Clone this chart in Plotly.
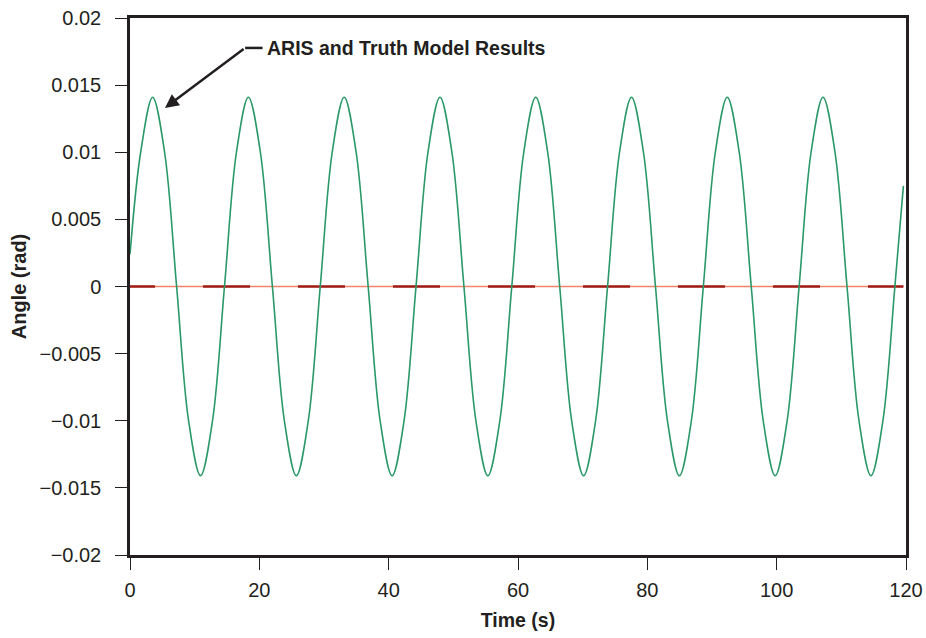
import plotly.graph_objects as go

# Pitch angle time history (s, rad) sampled at eighth-period points
time_s = [0.0, 1.65, 3.50, 5.35, 7.21, 9.06, 10.91, 12.76, 14.61,
          16.46, 18.31, 20.16, 22.02, 23.87, 25.72, 27.57, 29.42,
          31.27, 33.12, 34.97, 36.83, 38.68, 40.53, 42.38, 44.23,
          46.08, 47.93, 49.78, 51.64, 53.49, 55.34, 57.19, 59.04,
          60.89, 62.74, 64.59, 66.45, 68.30, 70.15, 72.00, 73.85,
          75.70, 77.55, 79.40, 81.26, 83.11, 84.96, 86.81, 88.66,
          90.51, 92.36, 94.21, 96.07, 97.92, 99.77, 101.62, 103.47,
          105.32, 107.17, 109.02, 110.88, 112.73, 114.58, 116.43, 118.28,
          119.6]
angle_rad = [0.0024, 0.0100, 0.0141, 0.0100, 0.0, -0.0100, -0.0141, -0.0100, 0.0,
             0.0100, 0.0141, 0.0100, 0.0, -0.0100, -0.0141, -0.0100, 0.0,
             0.0100, 0.0141, 0.0100, 0.0, -0.0100, -0.0141, -0.0100, 0.0,
             0.0100, 0.0141, 0.0100, 0.0, -0.0100, -0.0141, -0.0100, 0.0,
             0.0100, 0.0141, 0.0100, 0.0, -0.0100, -0.0141, -0.0100, 0.0,
             0.0100, 0.0141, 0.0100, 0.0, -0.0100, -0.0141, -0.0100, 0.0,
             0.0100, 0.0141, 0.0100, 0.0, -0.0100, -0.0141, -0.0100, 0.0,
             0.0100, 0.0141, 0.0100, 0.0, -0.0100, -0.0141, -0.0100, 0.0,
             0.0075]

# Reference (zero) response
ref_time = [0.0, 119.6]
ref_angle = [0.0, 0.0]

y_ticks = [0.02, 0.015, 0.01, 0.005, 0, -0.005, -0.01, -0.015, -0.02]
y_tick_text = ["0.02", "0.015", "0.01", "0.005", "0",
               "\u22120.005", "\u22120.01", "\u22120.015", "\u22120.02"]
x_ticks = [0, 20, 40, 60, 80, 100, 120]

font_family = "Liberation Sans, Arial, sans-serif"
ink = "#231f20"

fig = go.Figure()
fig.add_trace(go.Scatter(x=ref_time, y=ref_angle, mode="lines",
                         line=dict(color="#f3836a", width=1.6),
                         hoverinfo="skip", showlegend=False))
fig.add_trace(go.Scatter(x=ref_time, y=ref_angle, mode="lines",
                         line=dict(color="#9e1c16", width=2.6,
                                   dash="25px,48px,22px,0px"),
                         hoverinfo="skip", showlegend=False))
fig.add_trace(go.Scatter(x=time_s, y=angle_rad, mode="lines",
                         line=dict(color="#2a9868", width=1.6,
                                   shape="spline", smoothing=1.0),
                         showlegend=False))

# Callout: horizontal leader, then an arrow down to the first peak
fig.add_shape(type="line", xref="x", yref="y",
              x0=17.8, y0=0.01777, x1=20.5, y1=0.01777,
              line=dict(color=ink, width=2.5))
fig.add_annotation(x=5.4, y=0.0133, ax=17.8, ay=0.01777,
                   axref="x", ayref="y", xref="x", yref="y",
                   text="", showarrow=True, arrowhead=2, arrowsize=1.1,
                   arrowwidth=2.5, arrowcolor=ink)
fig.add_annotation(x=20.8, y=0.01777, xref="x", yref="y",
                   text="<b>ARIS and Truth Model Results</b>",
                   showarrow=False, xanchor="left", yanchor="middle",
                   font=dict(family=font_family, size=19.5, color=ink))

axis_common = dict(showline=True, linecolor=ink, linewidth=2.5, mirror=True,
                   ticks="outside", ticklen=12, tickwidth=1.2, tickcolor=ink,
                   showgrid=False, zeroline=False, automargin=False,
                   tickfont=dict(family=font_family, size=20, color=ink))

fig.update_xaxes(range=[0, 120], tickvals=x_ticks, ticklabelstandoff=3,
                 title=dict(text="<b>Time (s)</b>", standoff=14,
                            font=dict(family=font_family, size=19.5, color=ink)),
                 **axis_common)
fig.update_yaxes(range=[-0.02, 0.02], tickvals=y_ticks, ticktext=y_tick_text,
                 ticklabelstandoff=10,
                 title=dict(text="<b>Angle (rad)</b>", standoff=8,
                            font=dict(family=font_family, size=20, color=ink)),
                 **axis_common)

fig.update_layout(width=926, height=638,
                  margin=dict(l=130, r=20, t=18, b=83),
                  paper_bgcolor="white", plot_bgcolor="white")

fig.write_html("out.html")
